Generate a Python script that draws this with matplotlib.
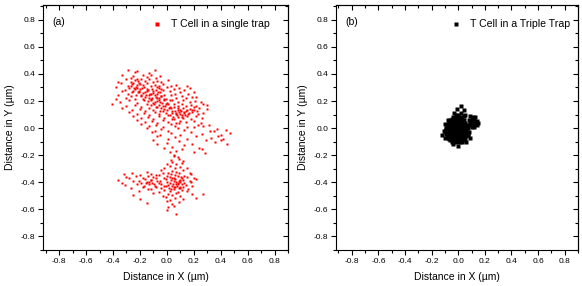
import matplotlib.pyplot as plt
from matplotlib.ticker import MultipleLocator

plt.rcParams['font.family'] = ['Liberation Sans', 'DejaVu Sans']

# (x, y) in um
single_trap_pts = [
    (-0.29, 0.432), (-0.24, 0.412), (-0.22, 0.424), (-0.13, 0.406), (-0.09, 0.429),
    (-0.33, 0.392), (-0.27, 0.372), (-0.25, 0.384), (-0.22, 0.366), (-0.18, 0.389),
    (-0.15, 0.377), (-0.12, 0.395), (-0.08, 0.369), (-0.05, 0.381),
    (-0.36, 0.344), (-0.30, 0.362), (-0.27, 0.342), (-0.24, 0.354), (-0.21, 0.336),
    (-0.19, 0.359), (-0.16, 0.347), (-0.13, 0.365), (-0.10, 0.339), (-0.07, 0.351),
    (-0.04, 0.344), (0.01, 0.356),
    (-0.34, 0.332), (-0.29, 0.312), (-0.26, 0.324), (-0.23, 0.306), (-0.20, 0.329),
    (-0.18, 0.317), (-0.15, 0.335), (-0.12, 0.309), (-0.09, 0.321), (-0.06, 0.314),
    (-0.03, 0.326), (0.03, 0.308), (0.07, 0.318), (0.15, 0.310),
    (-0.38, 0.302), (-0.31, 0.282), (-0.28, 0.294), (-0.25, 0.276), (-0.22, 0.299),
    (-0.20, 0.287), (-0.17, 0.305), (-0.14, 0.279), (-0.11, 0.291), (-0.08, 0.284),
    (-0.06, 0.296), (-0.03, 0.278), (0.00, 0.301), (0.05, 0.285), (0.09, 0.297),
    (0.13, 0.281), (0.17, 0.293),
    (-0.33, 0.272), (-0.29, 0.252), (-0.26, 0.264), (-0.23, 0.246), (-0.21, 0.269),
    (-0.18, 0.257), (-0.15, 0.275), (-0.12, 0.249), (-0.10, 0.261), (-0.07, 0.254),
    (-0.05, 0.266), (-0.02, 0.248), (0.02, 0.271), (0.06, 0.255), (0.10, 0.267),
    (0.16, 0.251), (0.20, 0.263),
    (-0.36, 0.242), (-0.30, 0.222), (-0.27, 0.234), (-0.24, 0.216), (-0.19, 0.239),
    (-0.16, 0.227), (-0.13, 0.245), (-0.11, 0.219), (-0.08, 0.231), (-0.06, 0.224),
    (-0.04, 0.236), (-0.01, 0.218), (0.03, 0.241), (0.07, 0.225), (0.11, 0.237),
    (0.14, 0.221), (0.19, 0.233), (0.22, 0.226),
    (-0.38, 0.212), (-0.35, 0.192), (-0.28, 0.204), (-0.22, 0.186), (-0.17, 0.209),
    (-0.14, 0.197), (-0.12, 0.215), (-0.09, 0.189), (-0.07, 0.201), (-0.05, 0.194),
    (-0.02, 0.206), (0.00, 0.188), (0.04, 0.211), (0.08, 0.195), (0.12, 0.207),
    (0.17, 0.191), (0.21, 0.203), (0.25, 0.196),
    (-0.41, 0.176), (-0.30, 0.162), (-0.24, 0.174), (-0.19, 0.156), (-0.15, 0.179),
    (-0.12, 0.167), (-0.10, 0.185), (-0.08, 0.159), (-0.06, 0.171), (-0.03, 0.164),
    (-0.01, 0.176), (0.02, 0.158), (0.05, 0.181), (0.08, 0.165), (0.11, 0.177),
    (0.14, 0.161), (0.18, 0.173), (0.22, 0.166), (0.27, 0.178), (0.30, 0.172),
    (-0.33, 0.152), (-0.26, 0.132), (-0.20, 0.144), (-0.16, 0.126), (-0.13, 0.149),
    (-0.10, 0.137), (-0.07, 0.155), (-0.05, 0.129), (-0.02, 0.141), (0.00, 0.134),
    (0.03, 0.146), (0.06, 0.128), (0.08, 0.151), (0.10, 0.135), (0.12, 0.147),
    (0.15, 0.131), (0.17, 0.143), (0.20, 0.136), (0.24, 0.148), (0.30, 0.142),
    (-0.28, 0.122), (-0.22, 0.102), (-0.17, 0.114), (-0.13, 0.096), (-0.09, 0.119),
    (-0.06, 0.107), (-0.03, 0.125), (0.01, 0.099), (0.04, 0.111), (0.07, 0.104),
    (0.09, 0.116), (0.11, 0.098), (0.13, 0.121), (0.16, 0.105), (0.19, 0.117),
    (0.23, 0.101), (0.27, 0.113),
    (-0.25, 0.092), (-0.19, 0.072), (-0.14, 0.084), (-0.10, 0.066), (-0.06, 0.089),
    (-0.02, 0.077), (0.02, 0.095), (0.05, 0.069), (0.08, 0.081), (0.12, 0.074),
    (0.15, 0.086), (0.18, 0.068), (0.22, 0.091), (0.26, 0.075),
    (-0.22, 0.062), (-0.16, 0.042), (-0.11, 0.054), (-0.07, 0.036), (-0.03, 0.059),
    (0.01, 0.047), (0.04, 0.065), (0.07, 0.039), (0.10, 0.051), (0.14, 0.044),
    (0.20, 0.056), (0.25, 0.038),
    (-0.19, 0.032), (-0.13, 0.012), (-0.08, 0.024), (-0.03, 0.006), (0.03, 0.029),
    (0.06, 0.017), (0.09, 0.035), (0.15, 0.009), (0.23, 0.021), (0.27, 0.014),
    (0.31, 0.026),
    (-0.15, 0.002), (-0.09, -0.018), (-0.04, -0.006), (0.01, -0.024), (0.08, -0.001),
    (0.13, -0.013), (0.20, 0.005), (0.32, -0.021), (0.37, -0.009), (0.44, -0.016),
    (-0.11, -0.028), (-0.05, -0.048), (0.03, -0.036), (0.10, -0.054), (0.18, -0.031),
    (0.26, -0.043), (0.35, -0.025), (0.40, -0.051), (0.47, -0.039),
    (-0.07, -0.058), (0.01, -0.078), (0.06, -0.066), (0.15, -0.084), (0.22, -0.061),
    (0.33, -0.073), (0.38, -0.055), (0.42, -0.081),
    (-0.10, -0.088), (0.00, -0.108), (0.09, -0.096), (0.19, -0.114), (0.29, -0.091),
    (0.36, -0.103), (0.40, -0.085),
    (-0.07, -0.118), (0.04, -0.138), (0.13, -0.126), (0.24, -0.144), (0.45, -0.121),
    (-0.02, -0.148), (0.07, -0.168), (0.11, -0.156), (0.20, -0.174), (0.26, -0.151),
    (0.02, -0.178), (0.05, -0.198), (0.28, -0.186),
    # denser ridge of the upper cluster
    (-0.27, 0.31), (-0.245, 0.295), (-0.225, 0.315), (-0.205, 0.275), (-0.185, 0.295),
    (-0.165, 0.265), (-0.145, 0.285), (-0.125, 0.255), (-0.105, 0.275), (-0.085, 0.245),
    (-0.065, 0.265), (-0.045, 0.235), (-0.025, 0.215), (-0.055, 0.205), (-0.035, 0.185),
    (-0.015, 0.165), (0.005, 0.175), (0.015, 0.145), (0.035, 0.125), (0.055, 0.155),
    (0.065, 0.115), (0.085, 0.135), (0.095, 0.105), (0.105, 0.125), (0.125, 0.115),
    (0.135, 0.095), (0.145, 0.125), (0.165, 0.115), (0.185, 0.135), (0.205, 0.155),
    (0.225, 0.125), (-0.075, 0.225), (-0.095, 0.175), (-0.115, 0.205), (-0.135, 0.225),
    (-0.155, 0.245), (-0.175, 0.215), (-0.195, 0.245), (-0.215, 0.265), (-0.235, 0.285),
    (-0.255, 0.335), (-0.215, 0.345), (-0.075, 0.305), (-0.045, 0.285), (0.025, 0.205),
    (0.045, 0.085), (0.075, 0.095), (0.115, 0.085), (-0.005, 0.115), (-0.045, 0.145),
    # lower cluster
    (0.05, -0.205), (0.08, -0.215),
    (0.03, -0.235), (0.09, -0.225), (0.12, -0.242),
    (0.00, -0.262), (0.04, -0.251), (0.07, -0.268), (0.11, -0.256),
    (-0.02, -0.292), (0.02, -0.281), (0.06, -0.298), (0.10, -0.286), (0.15, -0.294),
    (-0.15, -0.322), (-0.04, -0.311), (0.01, -0.328), (0.04, -0.316), (0.07, -0.324),
    (0.12, -0.309), (0.17, -0.331),
    (-0.32, -0.342), (-0.26, -0.332), (-0.20, -0.349), (-0.12, -0.336), (-0.08, -0.344),
    (-0.03, -0.329), (0.00, -0.351), (0.03, -0.338), (0.06, -0.346), (0.09, -0.334),
    (0.13, -0.352), (0.18, -0.341),
    (-0.30, -0.362), (-0.23, -0.352), (-0.18, -0.369), (-0.14, -0.356), (-0.10, -0.364),
    (-0.06, -0.349), (-0.02, -0.371), (0.02, -0.358), (0.05, -0.366), (0.08, -0.354),
    (0.11, -0.372), (0.15, -0.361), (0.20, -0.368),
    (-0.36, -0.382), (-0.28, -0.372), (-0.21, -0.389), (-0.16, -0.376), (-0.12, -0.384),
    (-0.08, -0.369), (-0.05, -0.391), (-0.01, -0.378), (0.03, -0.386), (0.06, -0.374),
    (0.09, -0.392), (0.12, -0.381), (0.17, -0.388), (0.22, -0.376),
    (-0.33, -0.402), (-0.25, -0.392), (-0.19, -0.409), (-0.15, -0.396), (-0.11, -0.404),
    (-0.07, -0.389), (-0.04, -0.411), (0.00, -0.398), (0.02, -0.406), (0.05, -0.394),
    (0.08, -0.412), (0.10, -0.401), (0.13, -0.408), (0.18, -0.396),
    (-0.31, -0.422), (-0.22, -0.412), (-0.17, -0.429), (-0.13, -0.416), (-0.09, -0.424),
    (-0.06, -0.409), (-0.02, -0.431), (0.01, -0.418), (0.04, -0.426), (0.07, -0.414),
    (0.10, -0.432), (0.14, -0.421), (0.19, -0.428),
    (-0.27, -0.442), (-0.18, -0.432), (-0.12, -0.449), (-0.08, -0.436), (-0.04, -0.444),
    (-0.01, -0.429), (0.03, -0.451), (0.06, -0.438), (0.09, -0.446), (0.12, -0.434),
    (0.16, -0.452),
    (-0.21, -0.462), (-0.14, -0.452), (-0.06, -0.469), (-0.02, -0.456), (0.02, -0.464),
    (0.05, -0.449), (0.08, -0.471), (0.11, -0.458), (0.15, -0.466),
    (-0.25, -0.492), (-0.10, -0.482), (-0.03, -0.499), (0.01, -0.486), (0.04, -0.494),
    (0.07, -0.479), (0.10, -0.501), (0.19, -0.488), (0.27, -0.484),
    (-0.20, -0.522), (-0.01, -0.512), (0.02, -0.529), (0.06, -0.516), (0.12, -0.524),
    (0.22, -0.518),
    (-0.15, -0.552), (0.00, -0.542), (0.04, -0.559), (0.09, -0.546),
    (0.01, -0.582), (0.05, -0.575), (0.00, -0.602), (0.07, -0.638),
    (0.065, -0.395), (0.085, -0.405), (0.095, -0.385), (0.075, -0.425), (0.115, -0.415),
    (0.045, -0.415), (0.055, -0.435), (0.095, -0.445), (-0.135, -0.395), (-0.115, -0.385),
    (-0.155, -0.405), (-0.095, -0.41), (0.035, -0.37), (0.105, -0.36), (0.015, -0.44),
]

# panel (b): rows of the dense blob, y -> x positions
triple_rows = {
    0.08: [-0.04, -0.02, 0.00, 0.02],
    0.07: [-0.05, -0.03, -0.01, 0.01, 0.03],
    0.06: [-0.06, -0.04, -0.02, 0.00, 0.02, 0.04],
    0.05: [-0.065, -0.045, -0.025, -0.005, 0.015, 0.035],
    0.04: [-0.07, -0.05, -0.03, -0.01, 0.01, 0.03, 0.05],
    0.03: [-0.075, -0.055, -0.035, -0.015, 0.005, 0.025, 0.045],
    0.02: [-0.08, -0.06, -0.04, -0.02, 0.00, 0.02, 0.04, 0.06],
    0.01: [-0.085, -0.065, -0.045, -0.025, -0.005, 0.015, 0.035, 0.055],
    0.00: [-0.09, -0.07, -0.05, -0.03, -0.01, 0.01, 0.03, 0.05],
    -0.01: [-0.095, -0.075, -0.055, -0.035, -0.015, 0.005, 0.025, 0.045],
    -0.02: [-0.10, -0.08, -0.06, -0.04, -0.02, 0.00, 0.02, 0.04, 0.06],
    -0.03: [-0.09, -0.07, -0.05, -0.03, -0.01, 0.01, 0.03, 0.05, 0.065],
    -0.04: [-0.09, -0.07, -0.05, -0.03, -0.01, 0.01, 0.03, 0.05, 0.07],
    -0.05: [-0.085, -0.065, -0.045, -0.025, -0.005, 0.015, 0.035, 0.055],
    -0.06: [-0.08, -0.06, -0.04, -0.02, 0.00, 0.02, 0.04, 0.06],
    -0.07: [-0.075, -0.055, -0.035, -0.015, 0.005, 0.025, 0.045],
    -0.08: [-0.07, -0.05, -0.03, -0.01, 0.01, 0.03, 0.05],
    -0.09: [-0.06, -0.04, -0.02, 0.00, 0.02, 0.04],
    -0.10: [-0.05, -0.03, -0.01, 0.01, 0.03],
}
# side lobe and stray points of panel (b)
triple_extra = [
    (0.08, 0.06), (0.10, 0.07), (0.12, 0.06), (0.14, 0.05), (0.09, 0.03),
    (0.11, 0.04), (0.13, 0.03), (0.15, 0.04), (0.10, 0.01), (0.12, 0.01),
    (0.08, 0.02), (0.11, 0.08), (0.13, 0.08), (0.09, 0.09), (0.07, 0.00),
    (0.14, 0.02), (0.10, 0.05), (0.12, 0.045), (0.085, 0.045), (0.115, 0.025),
    (0.02, 0.16), (-0.01, 0.14), (0.04, 0.13), (-0.03, 0.11), (0.00, 0.10),
    (0.02, 0.11), (-0.02, 0.095), (0.04, 0.09), (-0.11, -0.02), (-0.12, -0.05),
    (0.00, -0.13), (0.06, -0.10), (-0.04, -0.12), (0.09, -0.07), (-0.10, 0.03),
    (0.05, 0.10), (-0.08, 0.06), (0.07, -0.05), (0.08, -0.03), (-0.10, -0.07),
]

sx, sy = zip(*single_trap_pts)
tx = [x for y in triple_rows for x in triple_rows[y]] + [p[0] for p in triple_extra]
ty = [y for y in triple_rows for x in triple_rows[y]] + [p[1] for p in triple_extra]

fig = plt.figure(figsize=(5.82, 2.86), dpi=100)
ax_a = fig.add_axes([0.0739, 0.126, 0.421, 0.857])
ax_b = fig.add_axes([0.577, 0.126, 0.416, 0.857])

panels = [
    (ax_a, sx, sy, 'red', 1.9, 'T Cell in a single trap', '(a)', (0.967, 0.984)),
    (ax_b, tx, ty, 'black', 2.6, 'T Cell in a Triple Trap', '(b)', (1.012, 0.984)),
]
for ax, xs, ys, col, ms, lab, tag, anchor in panels:
    ax.plot(xs, ys, 's', ms=ms, mec='none', color=col, label=lab)
    ax.set_xlim(-0.92, 0.9)
    ax.set_ylim(-0.9, 0.91)
    for axis in (ax.xaxis, ax.yaxis):
        axis.set_major_locator(MultipleLocator(0.2))
        axis.set_minor_locator(MultipleLocator(0.1))
    ax.xaxis.set_major_formatter(lambda v, p: f'{v:.1f}')
    ax.yaxis.set_major_formatter(lambda v, p: f'{v:.1f}')
    ax.tick_params(which='both', direction='out', labelsize=6, width=0.8, pad=2)
    ax.tick_params(which='major', length=3.5)
    ax.tick_params(which='minor', length=2)
    # mirrored ticks pointing in on top and right
    top = ax.secondary_xaxis('top')
    right = ax.secondary_yaxis('right')
    for sec, axis in ((top, top.xaxis), (right, right.yaxis)):
        axis.set_major_locator(MultipleLocator(0.2))
        axis.set_minor_locator(MultipleLocator(0.1))
        sec.tick_params(which='both', direction='in', width=0.8,
                        labeltop=False, labelright=False)
        sec.tick_params(which='major', length=3.5)
        sec.tick_params(which='minor', length=2)
    for s in ax.spines.values():
        s.set_linewidth(0.8)
    ax.set_xlabel('Distance in X (µm)', fontsize=7.5, labelpad=5)
    ax.set_ylabel('Distance in Y (µm)', fontsize=7.5, labelpad=4)
    ax.text(0.04, 0.95, tag, transform=ax.transAxes, fontsize=7.5, va='top')
    ax.legend(loc='upper right', bbox_to_anchor=anchor, frameon=False,
              fontsize=7.6, markerscale=2.8 / ms, handlelength=1.2,
              handletextpad=0.7, borderaxespad=0.6)

fig.savefig('out.png', dpi=100)
